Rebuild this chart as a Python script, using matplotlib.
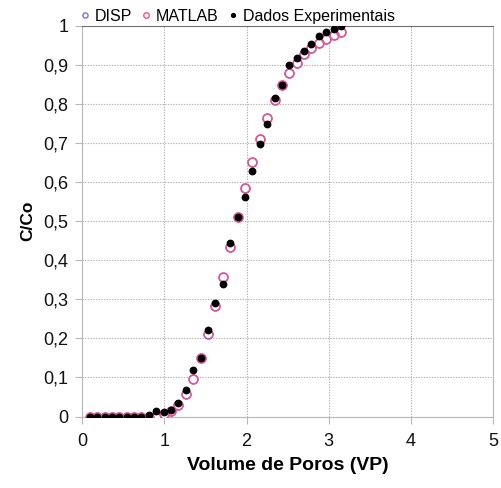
import matplotlib.pyplot as plt
from matplotlib.ticker import FuncFormatter

plt.rcParams['font.family'] = ['Liberation Sans', 'DejaVu Sans']

# pore volumes (VP)
vp = [0.09, 0.18, 0.27, 0.36, 0.45, 0.54, 0.63, 0.72, 0.81, 0.90,
      0.99, 1.08, 1.17, 1.26, 1.35, 1.44, 1.53, 1.62, 1.71, 1.80,
      1.89, 1.98, 2.07, 2.16, 2.25, 2.34, 2.43, 2.52, 2.61, 2.70,
      2.79, 2.88, 2.97, 3.06, 3.15]

# model curves (DISP and MATLAB practically coincide)
disp = [0.0, 0.0, 0.0, 0.0, 0.0, 0.0, 0.0, 0.0, 0.0, 0.0,
        0.006, 0.015, 0.03, 0.057, 0.097, 0.149, 0.21, 0.284, 0.357, 0.433,
        0.51, 0.585, 0.651, 0.711, 0.764, 0.809, 0.848, 0.879, 0.905, 0.927,
        0.944, 0.957, 0.967, 0.976, 0.984]
matlab = [0.0, 0.0, 0.0, 0.0, 0.0, 0.0, 0.0, 0.0, 0.0, 0.0,
          0.006, 0.015, 0.03, 0.057, 0.097, 0.149, 0.21, 0.284, 0.357, 0.433,
          0.51, 0.585, 0.651, 0.711, 0.764, 0.809, 0.848, 0.879, 0.905, 0.927,
          0.944, 0.957, 0.967, 0.976, 0.984]

# experimental data
exp = [0.0, 0.0, 0.0, 0.0, 0.0, 0.0, 0.0, 0.0, 0.004, 0.014,
       0.012, 0.017, 0.034, 0.068, 0.119, 0.15, 0.221, 0.29, 0.34, 0.444,
       0.51, 0.561, 0.629, 0.697, 0.749, 0.816, 0.848, 0.901, 0.918, 0.936,
       0.953, 0.973, 0.984, 0.992, 1.0]

fig = plt.figure(figsize=(5.02, 4.88), dpi=100)
ax = fig.add_axes([0.164, 0.1465, 0.818, 0.8005])

ax.plot(vp, disp, 'o', mfc='white', mec='#7b6fe8', mew=1.0, ms=6.2,
        label='DISP', zorder=3)
ax.plot(vp, matlab, 'o', mfc='none', mec='#f0508a', mew=1.0, ms=6.6,
        label='MATLAB', zorder=4)
ax.plot(vp, exp, 'o', color='black', ms=4.6, label='Dados Experimentais',
        zorder=5)

ax.set_xlim(0, 5)
ax.set_ylim(0, 1)
ax.set_xticks(range(0, 6))
ax.set_yticks([i / 10 for i in range(11)])
ax.yaxis.set_major_formatter(FuncFormatter(
    lambda v, p: ('%g' % round(v, 1)).replace('.', ',')))
ax.grid(True, color='#b4b4b4', linestyle=(0, (1.2, 1.2)), linewidth=0.8)
ax.set_axisbelow(True)

for side in ['left', 'bottom', 'right']:
    ax.spines[side].set_color('#b8b8b8')
ax.spines['top'].set_color('#707070')
ax.tick_params(direction='out', length=5, color='#b8b8b8', labelsize=13,
               labelcolor='#111111')
ax.tick_params(axis='y', pad=5)
ax.tick_params(axis='x', pad=7)

ax.set_xlabel('Volume de Poros (VP)', fontsize=14, fontweight='bold', labelpad=5)
ax.set_ylabel('C/Co', fontsize=12.5, fontweight='bold', labelpad=6)

ax.legend(loc='lower left', bbox_to_anchor=(-0.005, 1.005), ncol=3,
          frameon=False, fontsize=11.5, handlelength=0.6, handletextpad=0.3,
          columnspacing=0.6, markerscale=0.6, borderaxespad=0, borderpad=0)

fig.savefig('out.png', dpi=100)
